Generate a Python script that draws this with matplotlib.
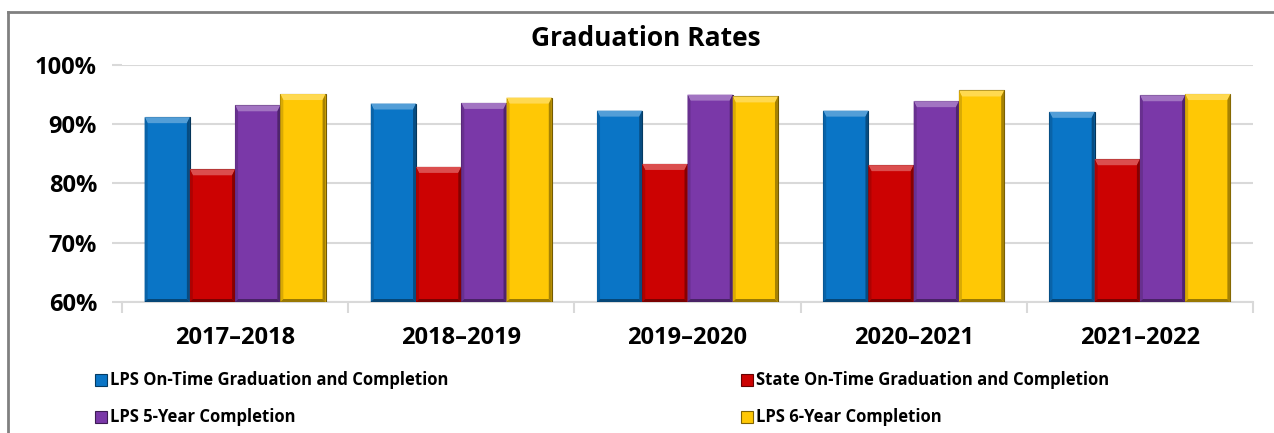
import numpy as np
import matplotlib
matplotlib.use("Agg")
import matplotlib.pyplot as plt
from matplotlib.patches import Polygon, Rectangle
from matplotlib.colors import to_rgb

years = ["2017\u20132018", "2018\u20132019", "2019\u20132020", "2020\u20132021", "2021\u20132022"]
series_names = [
    "LPS On-Time Graduation and Completion",
    "State On-Time Graduation and Completion",
    "LPS 5-Year Completion",
    "LPS 6-Year Completion",
]
lps_on_time = [91.2, 93.5, 92.3, 92.3, 92.1]
state_on_time = [82.4, 82.8, 83.3, 83.1, 84.1]
lps_5_year = [93.2, 93.6, 95.0, 93.9, 94.9]
lps_6_year = [95.1, 94.5, 94.7, 95.7, 95.1]
colors = ["#0A75C6", "#CC0202", "#7A38A8", "#FFC805"]

series = [lps_on_time, state_on_time, lps_5_year, lps_6_year]

plt.rcParams["font.family"] = ["Open Sans", "DejaVu Sans"]
plt.rcParams["font.weight"] = "bold"

W, H = 1274, 433
fig = plt.figure(figsize=(W / 100, H / 100), dpi=100)
ax = fig.add_axes([122 / W, (H - 302) / H, 1131 / W, (302 - 65) / H])

YMIN, YMAX = 60, 100
bar_w = 0.2
x = np.arange(len(years))


def shade(c, f):
    r, g, b = to_rgb(c)
    if f >= 0:
        return (r + (1 - r) * f, g + (1 - g) * f, b + (1 - b) * f)
    return (r * (1 + f), g * (1 + f), b * (1 + f))


# bevel sizes in data units (about 6 px tall, 3 px wide)
bev_h = 6 * (YMAX - YMIN) / (302 - 65)
bev_w = 3 * len(years) / 1131

for i, (vals, col) in enumerate(zip(series, colors)):
    pos = x - 0.3 + i * bar_w
    bars = ax.bar(pos, np.array(vals) - YMIN, bottom=YMIN, width=bar_w,
                  color=col, edgecolor=shade(col, -0.55), linewidth=0.8, zorder=3)
    for b in bars:
        x0, x1 = b.get_x(), b.get_x() + b.get_width()
        top = b.get_y() + b.get_height()
        ax.add_patch(Polygon([(x0, top), (x1, top), (x1 - bev_w, top - bev_h),
                              (x0 + bev_w, top - bev_h)], closed=True,
                             facecolor=shade(col, 0.3), edgecolor="none", zorder=4))
        ax.add_patch(Polygon([(x1, top), (x1, YMIN), (x1 - bev_w, YMIN + bev_h * 0.5),
                              (x1 - bev_w, top - bev_h)], closed=True,
                             facecolor=shade(col, -0.35), edgecolor="none", zorder=4))
        ax.add_patch(Polygon([(x0, top), (x0 + bev_w, top - bev_h), (x0 + bev_w, YMIN + bev_h * 0.5),
                              (x0, YMIN)], closed=True,
                             facecolor=shade(col, -0.15), edgecolor="none", zorder=4))
        ax.add_patch(Polygon([(x0, YMIN), (x1, YMIN), (x1 - bev_w, YMIN + bev_h * 0.5),
                              (x0 + bev_w, YMIN + bev_h * 0.5)], closed=True,
                             facecolor=shade(col, -0.4), edgecolor="none", zorder=4))

ax.set_xlim(-0.5, len(years) - 0.5)
ax.set_ylim(YMIN, YMAX)
ax.set_yticks(np.arange(60, 101, 10))
ax.set_yticklabels([f"{v}%" for v in range(60, 101, 10)], fontsize=17, fontweight="bold")
ax.yaxis.grid(True, color="#D9D9D9", linewidth=1.5, zorder=0)
ax.set_axisbelow(True)

# category boundaries as major ticks, names on minor ticks
ax.set_xticks(np.arange(-0.5, len(years), 1.0))
ax.set_xticklabels([])
ax.set_xticks(x, minor=True)
ax.set_xticklabels(years, minor=True, fontsize=17, fontweight="bold")
ax.tick_params(axis="x", which="major", length=8, width=1.5, color="#D9D9D9")
ax.tick_params(axis="x", which="minor", length=0, pad=17)
ax.tick_params(axis="y", length=7, width=1.5, color="#D9D9D9", pad=11)

for side in ["top", "right", "left"]:
    ax.spines[side].set_visible(False)
ax.spines["bottom"].set_color("#D9D9D9")
ax.spines["bottom"].set_linewidth(1.5)

fig.text(646 / W, 1 - 38 / H, "Graduation Rates", ha="center", va="center",
         fontsize=19, fontweight="bold")

# legend: two columns, two rows
leg_x = [95, 741]
leg_y = [380, 417]
for i, (name, col) in enumerate(zip(series_names, colors)):
    lx = leg_x[i % 2]
    ly = leg_y[i // 2]
    fig.patches.append(Rectangle((lx / W, 1 - (ly + 6) / H), 12 / W, 12 / H,
                                 transform=fig.transFigure, facecolor=col,
                                 edgecolor=shade(col, -0.5), linewidth=0.8))
    fig.text((lx + 15) / W, 1 - ly / H, name, ha="left", va="center",
             fontsize=12, fontweight="bold")

# chart frame (left and top edges)
fig.add_artist(plt.Line2D([8 / W, 8 / W], [0, 1 - 12 / H], transform=fig.transFigure,
                          color="#808080", linewidth=2))
fig.add_artist(plt.Line2D([8 / W, 1], [1 - 12 / H, 1 - 12 / H], transform=fig.transFigure,
                          color="#808080", linewidth=2))

fig.savefig("out.png", dpi=100)
